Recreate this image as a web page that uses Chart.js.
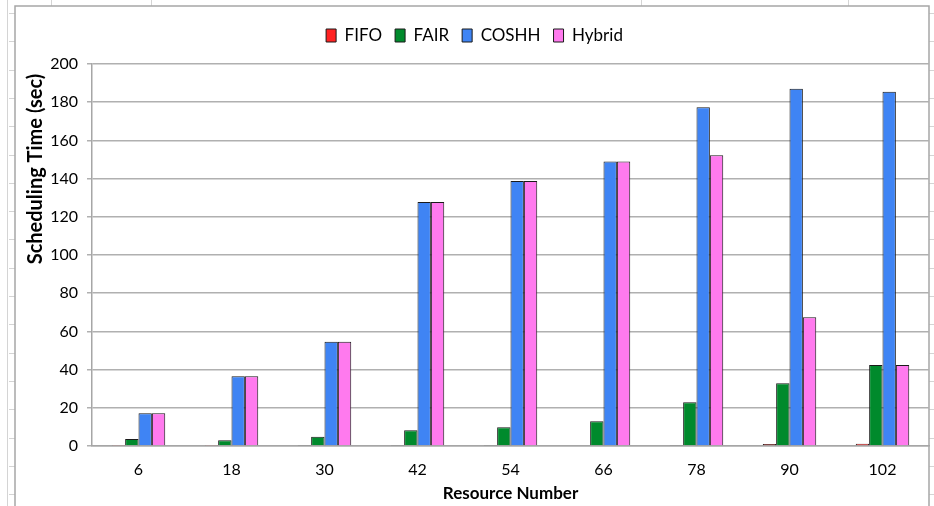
<!DOCTYPE html>
<html>
<head>
<meta charset="utf-8">
<script src="https://cdn.jsdelivr.net/npm/chart.js@4.4.1/dist/chart.umd.min.js"></script>
<style>
  html, body { margin: 0; padding: 0; background: #fff; }
  #wrap { width: 934px; height: 506px; position: relative; }
</style>
</head>
<body>
<div id="wrap"><canvas id="chart" width="934" height="506"></canvas></div>
<script>
// values
const resources = ['6', '18', '30', '42', '54', '66', '78', '90', '102'];
const fifo   = [0.2, 0.2, 0.3, 0.3, 0.3, 0.4, 0.5, 1.0, 1.2];
const fair   = [3.6, 3.0, 4.9, 8.2, 9.8, 12.9, 22.9, 32.8, 42.4];
const coshh  = [17.2, 36.5, 54.6, 127.7, 138.7, 149.0, 177.3, 187.0, 185.5];
const hybrid = [17.2, 36.5, 54.6, 127.7, 138.7, 149.0, 152.2, 67.4, 42.4];
const yTicks = [0, 20, 40, 60, 80, 100, 120, 140, 160, 180, 200];

const font = 'Lato, "Open Sans", sans-serif';

// sheet frame behind the chart (spreadsheet look)
const framePlugin = {
    id: 'frame',
    afterInit(chart) {
        // leave a bit more room under the legend row
        const legend = chart.legend;
        if (legend) {
            const fit = legend.fit;
            legend.fit = function () { fit.call(this); this.height += 10; };
        }
    },
    beforeDraw(chart) {
        const c = chart.ctx;
        c.save();
        c.fillStyle = '#fff';
        c.fillRect(0, 0, chart.width, chart.height);
        c.strokeStyle = '#d4d4d4';
        c.lineWidth = 1;
        c.beginPath();
        c.moveTo(7.5, 0); c.lineTo(7.5, 506);
        [51.5, 151.5, 641.5, 848.5].forEach(x => { c.moveTo(x, 0); c.lineTo(x, 6); });
        for (let y = 13; y < 506; y += 28.3) {
            c.moveTo(9, Math.round(y) + 0.5); c.lineTo(15, Math.round(y) + 0.5);
            c.moveTo(929, Math.round(y) + 0.5); c.lineTo(934, Math.round(y) + 0.5);
        }
        c.stroke();
        c.strokeStyle = '#a6a6a6';
        c.lineWidth = 1.5;
        c.strokeRect(15, 6, 914, 520);
        c.restore();
    }
};

const barStyle = { borderColor: '#1a1a1a', borderWidth: 1, borderSkipped: 'bottom' };

new Chart(document.getElementById('chart').getContext('2d'), {
    type: 'bar',
    data: {
        labels: resources,
        datasets: [
            { label: 'FIFO', data: fifo, backgroundColor: '#ff2222', ...barStyle },
            { label: 'FAIR', data: fair, backgroundColor: '#008a2c', ...barStyle },
            { label: 'COSHH', data: coshh, backgroundColor: '#3f84f4', ...barStyle },
            { label: 'Hybrid', data: hybrid, backgroundColor: '#ff7aee', ...barStyle }
        ]
    },
    options: {
        responsive: false,
        animation: false,
        devicePixelRatio: 1,
        layout: { padding: { left: 20, right: 5, top: 14, bottom: 0 } },
        datasets: { bar: { categoryPercentage: 0.575, barPercentage: 1 } },
        plugins: {
            legend: {
                position: 'top',
                labels: {
                    font: { family: font, size: 17 },
                    color: '#000',
                    boxWidth: 10,
                    boxHeight: 13,
                    padding: 13
                }
            },
            tooltip: { enabled: false }
        },
        scales: {
            x: {
                grid: { display: false, drawTicks: false },
                border: { color: '#a6a6a6', width: 1.5 },
                ticks: { font: { family: font, size: 16 }, color: '#000', padding: 14 },
                title: {
                    display: true, text: 'Resource Number', color: '#000',
                    font: { family: font, size: 17, weight: 'bold' }, padding: { top: 2, bottom: 2 }
                },
                afterFit: s => { s.height = 60; }
            },
            y: {
                min: 0, max: 200,
                afterBuildTicks: s => { s.ticks = yTicks.map(v => ({ value: v })); },
                grid: { color: '#b0b0b0', lineWidth: 1.5, tickLength: 5 },
                border: { color: '#a6a6a6', width: 1.5 },
                ticks: { font: { family: font, size: 16 }, color: '#000', padding: 9 },
                title: {
                    display: true, text: 'Scheduling Time (sec)  ', color: '#000', align: 'end',
                    font: { family: font, size: 20, weight: 'bold' }
                },
                afterFit: s => { s.width = 72; }
            }
        }
    },
    plugins: [framePlugin]
});
</script>
</body>
</html>
